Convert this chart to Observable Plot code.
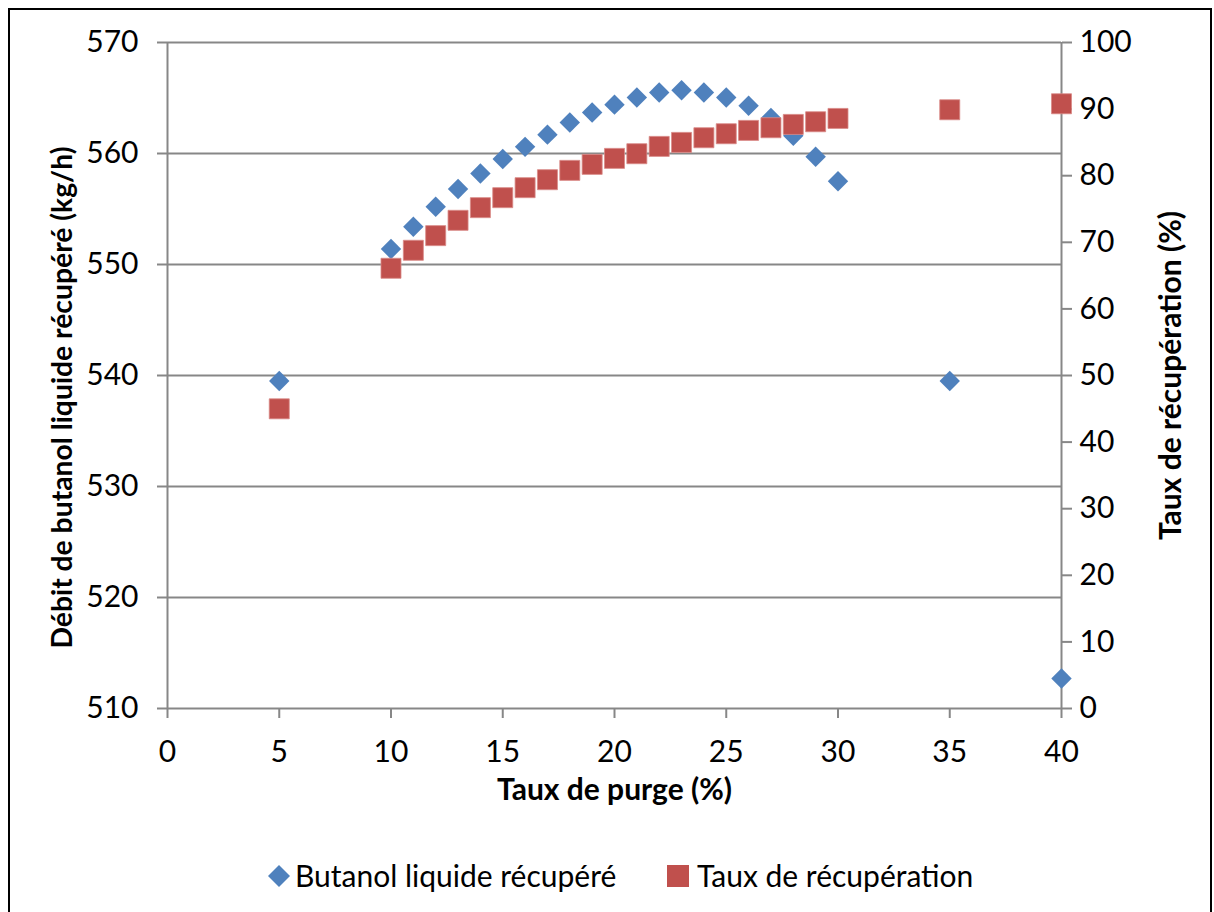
<!DOCTYPE html>
<html><head><meta charset="utf-8">
<script src="https://cdn.jsdelivr.net/npm/d3@7"></script>
<script src="https://cdn.jsdelivr.net/npm/@observablehq/plot@0.6"></script>
<style>
body{margin:0;background:#fff;font-family:Lato,sans-serif;}
#wrap{position:relative;width:1214px;height:912px;overflow:hidden;background:#fff}
#frame{position:absolute;left:8px;top:8px;width:1204px;height:920px;border:2px solid #000;box-sizing:border-box}
#chart{position:absolute;left:0;top:0}
.leg{position:absolute;top:857px;font-size:30px;line-height:36px;color:#000;white-space:nowrap}
.sym{position:absolute}
</style></head>
<body>
<div id="wrap">
  <div id="frame"></div>
  <div id="chart"></div>
  <div id="legend"></div>
</div>
<script>
// Data
const purge   = [5, 10, 11, 12, 13, 14, 15, 16, 17, 18, 19, 20, 21, 22, 23, 24, 25, 26, 27, 28, 29, 30, 35, 40];
const butanol = [539.5, 551.4, 553.4, 555.2, 556.8, 558.2, 559.5, 560.6, 561.7, 562.8, 563.7, 564.4, 565.05, 565.5, 565.7, 565.5, 565.05, 564.3, 563.2, 561.6, 559.7, 557.5, 539.5, 512.7];
const taux    = [45.0, 66.1, 68.8, 71.0, 73.3, 75.2, 76.7, 78.2, 79.4, 80.8, 81.7, 82.6, 83.3, 84.4, 85.0, 85.7, 86.3, 86.8, 87.2, 87.7, 88.1, 88.6, 89.9, 90.8];
const xTicks  = [0, 5, 10, 15, 20, 25, 30, 35, 40];
const leftTicks  = [510, 520, 530, 540, 550, 560, 570];
const rightTicks = [0, 10, 20, 30, 40, 50, 60, 70, 80, 90, 100];
const seriesNames = ["Butanol liquide récupéré", "Taux de récupération"];
const colors = ["#4F81BD", "#C0504D"];
const xLabel = "Taux de purge (%)";
const yLabelLeft = "Débit de butanol liquide récupéré (kg/h)";
const yLabelRight = "Taux de récupération (%)";

// map right axis (0..100) onto left axis domain (510..570)
const toLeft = v => 510 + v * 0.6;
const rows = purge.map((x, i) => ({x, b: butanol[i], t: toLeft(taux[i])}));

const grey = "#878787";
const fs = 30;

const chart = Plot.plot({
  width: 1214, height: 830,
  marginLeft: 167, marginRight: 153, marginTop: 42, marginBottom: 122,
  x: {domain: [0, 40]},
  y: {domain: [510, 570]},
  style: {fontFamily: "Lato, sans-serif", fontSize: fs + "px", color: "#000", background: "transparent"},
  marks: [
    Plot.ruleY(leftTicks, {stroke: grey, strokeWidth: 2}),
    Plot.ruleX([0, 40], {stroke: grey, strokeWidth: 2}),
    Plot.axisY(leftTicks, {anchor: "left", tickSize: 10, tickPadding: 19, stroke: grey, strokeWidth: 2, fill: "#000", fontSize: fs, label: null}),
    Plot.axisY(rightTicks.map(toLeft), {anchor: "right", tickSize: 10, tickPadding: 8, stroke: grey, strokeWidth: 2, fill: "#000", fontSize: fs, label: null,
      tickFormat: d => String(Math.round((d - 510) / 0.6))}),
    Plot.axisX(xTicks, {anchor: "bottom", tickSize: 10, tickPadding: 22, stroke: grey, strokeWidth: 2, fill: "#000", fontSize: fs, label: null}),
    Plot.text([xLabel], {frameAnchor: "bottom", textAnchor: "middle", dy: 91, fontWeight: "bold", fontSize: fs, fill: "#000"}),
    Plot.text([yLabelLeft], {frameAnchor: "left", textAnchor: "middle", dx: -105, dy: 22, rotate: -90, fontWeight: "bold", fontSize: 28.3, fill: "#000"}),
    Plot.text([yLabelRight], {frameAnchor: "right", textAnchor: "middle", dx: 110, dy: 0, rotate: -90, fontWeight: "bold", fontSize: fs, fill: "#000"}),
    Plot.dot(rows, {x: "x", y: "b", symbol: "diamond2", r: 9.2, fill: colors[0], stroke: "none"}),
    Plot.dot(rows, {x: "x", y: "t", symbol: "square", r: 11.3, fill: colors[1], stroke: "#d98a88", strokeWidth: 0.8})
  ]
});
document.getElementById("chart").appendChild(chart);

// Legend
const leg = document.getElementById("legend");
const legPos = [{sx: 279, tx: 295, sym: "diamond"}, {sx: 678, tx: 697, sym: "square"}];
seriesNames.forEach((name, i) => {
  const p = legPos[i];
  const s = document.createElementNS("http://www.w3.org/2000/svg", "svg");
  s.setAttribute("width", 24); s.setAttribute("height", 24);
  s.setAttribute("class", "sym");
  s.style.left = (p.sx - 12) + "px"; s.style.top = (876 - 12) + "px";
  const shape = document.createElementNS("http://www.w3.org/2000/svg", "path");
  shape.setAttribute("d", p.sym === "diamond" ? "M12,1L23,12L12,23L1,12Z" : "M1,1H23V23H1Z");
  shape.setAttribute("fill", colors[i]);
  s.appendChild(shape);
  leg.appendChild(s);
  const t = document.createElement("div");
  t.className = "leg"; t.style.left = p.tx + "px"; t.textContent = name;
  leg.appendChild(t);
});
</script>
</body></html>
